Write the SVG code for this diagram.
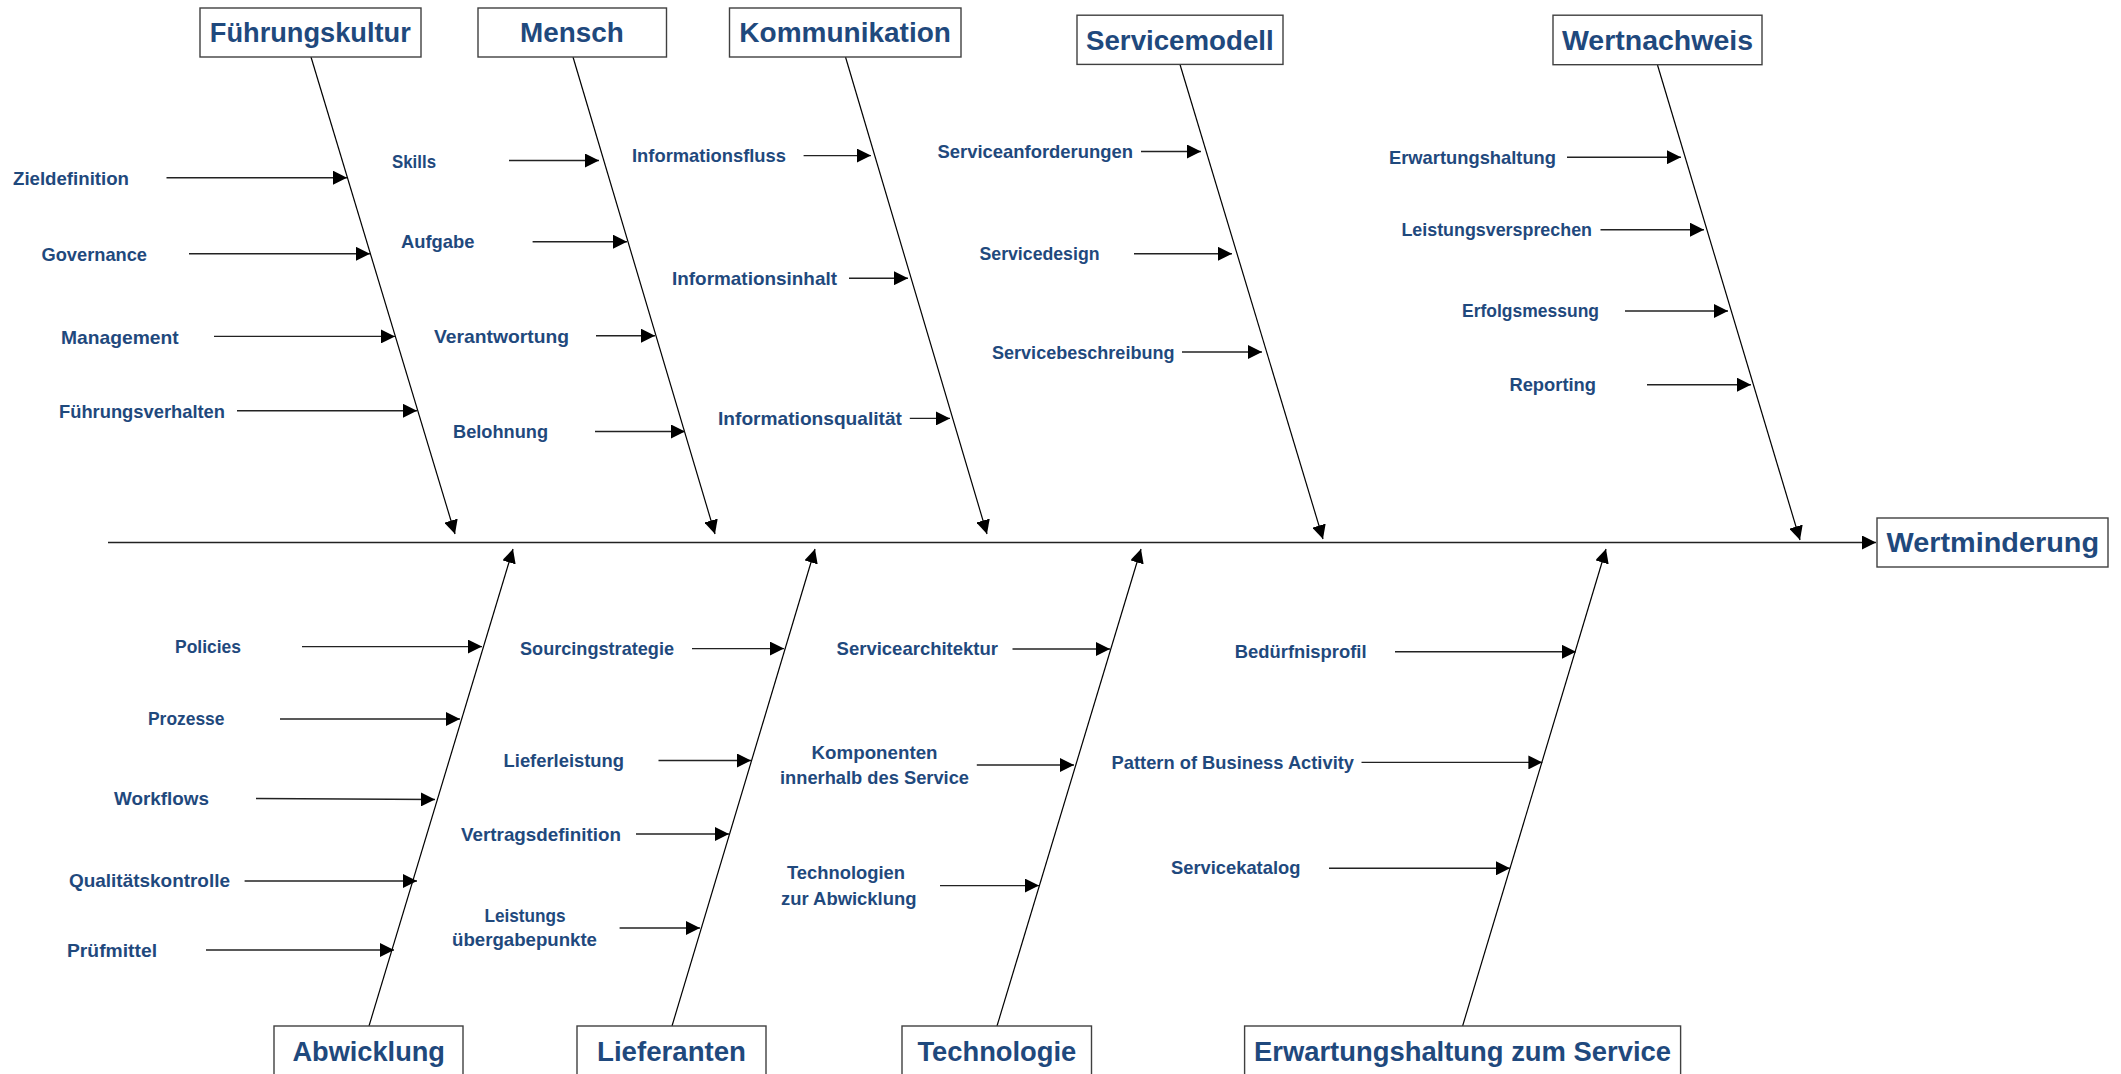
<svg xmlns="http://www.w3.org/2000/svg" width="2121" height="1074" viewBox="0 0 2121 1074">
<defs>
<style>
.t{font-family:"Liberation Sans Narrow","Liberation Sans",Arial,sans-serif;font-weight:bold;fill:#1F497D;font-size:19px}
.h{font-family:"Liberation Sans Narrow","Liberation Sans",Arial,sans-serif;font-weight:bold;fill:#1F497D;font-size:28px}
.box{fill:#fff;stroke:#404040;stroke-width:1.4}
.bone{stroke:#000;stroke-width:1.2;fill:none;marker-end:url(#ah)}
.sub{stroke:#222;stroke-width:1.4;fill:none;marker-end:url(#ah)}
.spine{stroke:#222;stroke-width:1.6;fill:none;marker-end:url(#ah)}
</style>
<marker id="ah" markerUnits="userSpaceOnUse" markerWidth="14" markerHeight="14" viewBox="0 0 14 14" refX="14" refY="7" orient="auto">
<path d="M0,0 L14,7 L0,14 z" fill="#000"/>
</marker>
</defs>
<rect width="2121" height="1074" fill="#fff"/>

<g id="connectors">
<line class="spine" x1="108" y1="542.5" x2="1876" y2="542.5"/>
<line class="bone" x1="311" y1="57" x2="455" y2="534"/>
<line class="bone" x1="573" y1="57" x2="715" y2="534"/>
<line class="bone" x1="845.5" y1="57" x2="987" y2="534"/>
<line class="bone" x1="1180" y1="64.5" x2="1323" y2="539"/>
<line class="bone" x1="1657.5" y1="65" x2="1800" y2="540"/>
<line class="bone" x1="369" y1="1026" x2="513" y2="549"/>
<line class="bone" x1="672" y1="1026" x2="815" y2="549"/>
<line class="bone" x1="997" y1="1026" x2="1141" y2="549"/>
<line class="bone" x1="1462.6" y1="1026" x2="1606" y2="549"/>

<line class="sub" x1="166.5" y1="177.7" x2="347" y2="177.7"/>
<line class="sub" x1="189" y1="253.8" x2="370" y2="253.8"/>
<line class="sub" x1="214" y1="336.4" x2="395" y2="336.4"/>
<line class="sub" x1="237" y1="410.8" x2="417" y2="410.8"/>

<line class="sub" x1="509" y1="160.5" x2="599" y2="160.5"/>
<line class="sub" x1="532.6" y1="241.7" x2="627" y2="241.7"/>
<line class="sub" x1="596" y1="335.7" x2="655" y2="335.7"/>
<line class="sub" x1="595" y1="431.5" x2="685" y2="431.5"/>

<line class="sub" x1="803.6" y1="155.6" x2="871" y2="155.6"/>
<line class="sub" x1="849" y1="278.2" x2="908" y2="278.2"/>
<line class="sub" x1="909.8" y1="418.4" x2="950" y2="418.4"/>

<line class="sub" x1="1141" y1="151.5" x2="1201" y2="151.5"/>
<line class="sub" x1="1134" y1="253.8" x2="1232" y2="253.8"/>
<line class="sub" x1="1182" y1="352" x2="1262" y2="352"/>

<line class="sub" x1="1567" y1="157.2" x2="1681" y2="157.2"/>
<line class="sub" x1="1600.5" y1="229.7" x2="1704" y2="229.7"/>
<line class="sub" x1="1625" y1="311" x2="1728" y2="311"/>
<line class="sub" x1="1647" y1="384.7" x2="1751" y2="384.7"/>

<line class="sub" x1="302" y1="646.6" x2="482" y2="646.6"/>
<line class="sub" x1="280" y1="719" x2="460" y2="719"/>
<line class="sub" x1="256" y1="798.5" x2="435" y2="799.5"/>
<line class="sub" x1="244.6" y1="881" x2="417" y2="881"/>
<line class="sub" x1="206" y1="950" x2="394" y2="950"/>

<line class="sub" x1="692" y1="648.6" x2="784" y2="648.6"/>
<line class="sub" x1="658.5" y1="760.5" x2="751" y2="760.5"/>
<line class="sub" x1="636" y1="834" x2="729" y2="834"/>
<line class="sub" x1="619.6" y1="928" x2="700" y2="928"/>

<line class="sub" x1="1012.5" y1="649" x2="1110" y2="649"/>
<line class="sub" x1="976.8" y1="765" x2="1074" y2="765"/>
<line class="sub" x1="940" y1="885.6" x2="1039" y2="885.6"/>

<line class="sub" x1="1395" y1="651.8" x2="1576" y2="651.8"/>
<line class="sub" x1="1361.5" y1="762.4" x2="1542.4" y2="762.4"/>
<line class="sub" x1="1329" y1="868.3" x2="1510" y2="868.3"/>
</g>

<g id="n-fuehrungskultur"><rect class="box" x="200" y="8" width="221" height="49"/><text class="h" x="209.8" y="42" textLength="201" lengthAdjust="spacingAndGlyphs">Führungskultur</text></g>
<g id="n-mensch"><rect class="box" x="478" y="8" width="188.5" height="49"/><text class="h" x="520" y="42" textLength="103.7" lengthAdjust="spacingAndGlyphs">Mensch</text></g>
<g id="n-kommunikation"><rect class="box" x="729.5" y="8" width="231.5" height="49"/><text class="h" x="739.3" y="42" textLength="211.6" lengthAdjust="spacingAndGlyphs">Kommunikation</text></g>
<g id="n-servicemodell"><rect class="box" x="1077" y="15.2" width="206" height="49.2"/><text class="h" x="1086" y="50" textLength="187.7" lengthAdjust="spacingAndGlyphs">Servicemodell</text></g>
<g id="n-wertnachweis"><rect class="box" x="1553" y="15.2" width="209" height="49.5"/><text class="h" x="1562" y="50" textLength="191" lengthAdjust="spacingAndGlyphs">Wertnachweis</text></g>
<g id="n-wertminderung"><rect class="box" x="1877" y="518" width="231" height="49"/><text class="h" x="1886.5" y="552" textLength="212.5" lengthAdjust="spacingAndGlyphs">Wertminderung</text></g>
<g id="n-abwicklung"><rect class="box" x="274" y="1026" width="189" height="60"/><text class="h" x="292.4" y="1061" textLength="152.6" lengthAdjust="spacingAndGlyphs">Abwicklung</text></g>
<g id="n-lieferanten"><rect class="box" x="577" y="1026" width="189" height="60"/><text class="h" x="597" y="1061" textLength="149" lengthAdjust="spacingAndGlyphs">Lieferanten</text></g>
<g id="n-technologie"><rect class="box" x="902" y="1026" width="189.5" height="60"/><text class="h" x="917.4" y="1061" textLength="158.9" lengthAdjust="spacingAndGlyphs">Technologie</text></g>
<g id="n-erwartung"><rect class="box" x="1244.6" y="1026" width="436" height="60"/><text class="h" x="1254" y="1061" textLength="417" lengthAdjust="spacingAndGlyphs">Erwartungshaltung zum Service</text></g>

<g id="labels">
<text class="t" x="13" y="185" textLength="116" lengthAdjust="spacingAndGlyphs">Zieldefinition</text>
<text class="t" x="41.5" y="261" textLength="105.5" lengthAdjust="spacingAndGlyphs">Governance</text>
<text class="t" x="61" y="343.5" textLength="117.6" lengthAdjust="spacingAndGlyphs">Management</text>
<text class="t" x="59" y="418" textLength="166" lengthAdjust="spacingAndGlyphs">Führungsverhalten</text>
<text class="t" x="392" y="167.5" textLength="44" lengthAdjust="spacingAndGlyphs">Skills</text>
<text class="t" x="401" y="248" textLength="73.5" lengthAdjust="spacingAndGlyphs">Aufgabe</text>
<text class="t" x="434" y="342.6" textLength="135" lengthAdjust="spacingAndGlyphs">Verantwortung</text>
<text class="t" x="453" y="438" textLength="95" lengthAdjust="spacingAndGlyphs">Belohnung</text>
<text class="t" x="632" y="162" textLength="154" lengthAdjust="spacingAndGlyphs">Informationsfluss</text>
<text class="t" x="672" y="285" textLength="165" lengthAdjust="spacingAndGlyphs">Informationsinhalt</text>
<text class="t" x="718" y="425" textLength="184" lengthAdjust="spacingAndGlyphs">Informationsqualität</text>
<text class="t" x="937.5" y="158" textLength="195.5" lengthAdjust="spacingAndGlyphs">Serviceanforderungen</text>
<text class="t" x="979.5" y="260" textLength="120" lengthAdjust="spacingAndGlyphs">Servicedesign</text>
<text class="t" x="992" y="359" textLength="182.5" lengthAdjust="spacingAndGlyphs">Servicebeschreibung</text>
<text class="t" x="1389" y="164" textLength="167" lengthAdjust="spacingAndGlyphs">Erwartungshaltung</text>
<text class="t" x="1401.4" y="235.6" textLength="190.6" lengthAdjust="spacingAndGlyphs">Leistungsversprechen</text>
<text class="t" x="1462" y="317.4" textLength="137" lengthAdjust="spacingAndGlyphs">Erfolgsmessung</text>
<text class="t" x="1509.4" y="390.6" textLength="86.6" lengthAdjust="spacingAndGlyphs">Reporting</text>
<text class="t" x="175" y="653.2" textLength="66" lengthAdjust="spacingAndGlyphs">Policies</text>
<text class="t" x="148" y="725" textLength="76.5" lengthAdjust="spacingAndGlyphs">Prozesse</text>
<text class="t" x="114" y="805" textLength="95" lengthAdjust="spacingAndGlyphs">Workflows</text>
<text class="t" x="69" y="887.3" textLength="161" lengthAdjust="spacingAndGlyphs">Qualitätskontrolle</text>
<text class="t" x="67" y="956.7" textLength="90" lengthAdjust="spacingAndGlyphs">Prüfmittel</text>
<text class="t" x="520" y="655" textLength="154" lengthAdjust="spacingAndGlyphs">Sourcingstrategie</text>
<text class="t" x="503.6" y="767" textLength="120.4" lengthAdjust="spacingAndGlyphs">Lieferleistung</text>
<text class="t" x="461" y="840.5" textLength="160" lengthAdjust="spacingAndGlyphs">Vertragsdefinition</text>
<text class="t" x="484.4" y="922" textLength="81.2" lengthAdjust="spacingAndGlyphs">Leistungs</text>
<text class="t" x="452" y="946.3" textLength="145" lengthAdjust="spacingAndGlyphs">übergabepunkte</text>
<text class="t" x="836.6" y="655" textLength="161.4" lengthAdjust="spacingAndGlyphs">Servicearchitektur</text>
<text class="t" x="811.6" y="759" textLength="125.9" lengthAdjust="spacingAndGlyphs">Komponenten</text>
<text class="t" x="780" y="784" textLength="189" lengthAdjust="spacingAndGlyphs">innerhalb des Service</text>
<text class="t" x="787" y="878.7" textLength="118" lengthAdjust="spacingAndGlyphs">Technologien</text>
<text class="t" x="781" y="904.7" textLength="135.5" lengthAdjust="spacingAndGlyphs">zur Abwicklung</text>
<text class="t" x="1234.8" y="658.4" textLength="131.7" lengthAdjust="spacingAndGlyphs">Bedürfnisprofil</text>
<text class="t" x="1111.6" y="768.7" textLength="242.4" lengthAdjust="spacingAndGlyphs">Pattern of Business Activity</text>
<text class="t" x="1171" y="874" textLength="129.4" lengthAdjust="spacingAndGlyphs">Servicekatalog</text>
</g>
</svg>
